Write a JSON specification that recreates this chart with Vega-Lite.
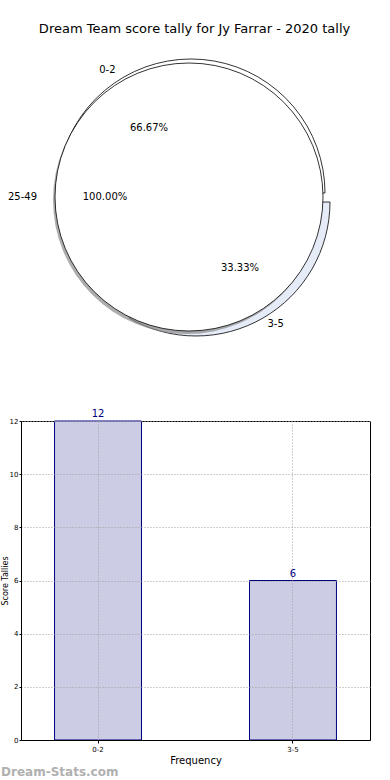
{
  "$schema": "https://vega.github.io/schema/vega-lite/v6.json",
  "padding": {"left": 0, "top": 23, "right": 0, "bottom": 0},
  "background": "white",
  "title": {"text": "Dream Team score tally for Jy Farrar - 2020 tally", "fontSize": 13, "font": "DejaVu Sans", "fontWeight": "normal", "anchor": "middle", "offset": 10, "dx": 9, "color": "black"},
  "config": {"font": "DejaVu Sans", "view": {"stroke": null}},
  "datasets": {
    "tally": [
      {"cat": "0-2", "count": 12, "pct": "66.67%"},
      {"cat": "3-5", "count": 6, "pct": "33.33%"}
    ],
    "other": [
      {"cat": "25-49", "count": 1, "pct": "100.00%"}
    ]
  },
  "spacing": 60,
  "vconcat": [
    {
      "width": 336,
      "height": 302,
      "resolve": {"scale": {"theta": "independent"}},
      "layer": [
        {
          "data": {"name": "tally"},
          "encoding": {
            "theta": {"field": "count", "type": "quantitative", "stack": true, "scale": {"range": [-2.617994, 3.665191]}},
            "order": {"field": "cat", "type": "ordinal"}
          },
          "layer": [
            {"mark": {"type": "arc", "radius": 134, "xOffset": 2, "yOffset": -4, "fill": "white", "stroke": "black", "strokeWidth": 0.8},
             "encoding": {"opacity": {"condition": {"test": "datum.cat === '0-2'", "value": 1}, "value": 0}}},
            {"mark": {"type": "arc", "radius": 134, "xOffset": 7, "yOffset": 5, "fill": "#e6ebf8", "stroke": "black", "strokeWidth": 0.8},
             "encoding": {"opacity": {"condition": {"test": "datum.cat === '3-5'", "value": 1}, "value": 0}}}
          ]
        },
        {
          "data": {"name": "other"},
          "encoding": {
            "theta": {"field": "count", "type": "quantitative", "stack": true, "scale": {"range": [-4.7124, 1.5708]}}
          },
          "layer": [
            {"mark": {"type": "arc", "radius": 134, "xOffset": -2, "yOffset": 3, "fill": "#8a8a8a", "opacity": 0.7}},
            {"mark": {"type": "arc", "radius": 134, "fill": "white", "stroke": "black", "strokeWidth": 0.8}},
            {"mark": {"type": "text", "radius": 152, "align": "right", "baseline": "middle", "fontSize": 10, "color": "black"},
             "encoding": {"text": {"field": "cat"}}},
            {"mark": {"type": "text", "radius": 84, "align": "center", "baseline": "middle", "fontSize": 10, "color": "black"},
             "encoding": {"text": {"field": "pct"}}}
          ]
        },
        {
          "data": {"name": "tally"},
          "encoding": {
            "theta": {"field": "count", "type": "quantitative", "stack": true, "scale": {"range": [-2.617994, 3.665191]}},
            "order": {"field": "cat", "type": "ordinal"}
          },
          "layer": [
            {"mark": {"type": "text", "radius": 147, "align": "right", "baseline": "middle", "fontSize": 10, "color": "black"},
             "encoding": {"text": {"field": "cat"}, "opacity": {"condition": {"test": "datum.cat === '0-2'", "value": 1}, "value": 0}}},
            {"mark": {"type": "text", "radius": 147, "align": "left", "baseline": "middle", "dx": 5, "fontSize": 10, "color": "black"},
             "encoding": {"text": {"field": "cat"}, "opacity": {"condition": {"test": "datum.cat === '3-5'", "value": 1}, "value": 0}}},
            {"mark": {"type": "text", "radius": 80, "align": "center", "baseline": "middle", "fontSize": 10, "color": "black"},
             "encoding": {"text": {"field": "pct"}, "opacity": {"condition": {"test": "datum.cat === '0-2'", "value": 1}, "value": 0}}},
            {"mark": {"type": "text", "radius": 80, "align": "center", "baseline": "middle", "dx": 11, "dy": 2, "fontSize": 10, "color": "black"},
             "encoding": {"text": {"field": "pct"}, "opacity": {"condition": {"test": "datum.cat === '3-5'", "value": 1}, "value": 0}}}
          ]
        }
      ]
    },
    {
      "width": 349,
      "height": 319,
      "data": {"name": "tally"},
      "view": {"stroke": "black", "strokeWidth": 1},
      "title": {"text": "Dream-Stats.com", "orient": "bottom", "anchor": "start", "frame": "bounds", "fontSize": 12, "fontWeight": "bold", "color": "#b0b0b0", "offset": 2},
      "encoding": {
        "x": {"field": "cat", "type": "nominal", "sort": null,
              "scale": {"paddingInner": 0.554, "paddingOuter": 0.172},
              "axis": {"title": "Frequency", "titleFontSize": 10, "titleFontWeight": "normal", "titleColor": "black", "titlePadding": 3,
                       "labelFontSize": 7, "labelAngle": 0, "labelColor": "black", "labelPadding": 2,
                       "grid": true, "gridDash": [1, 2], "gridColor": "#a0a0a0", "gridWidth": 1,
                       "domainColor": "black", "tickColor": "black", "tickSize": 3, "zindex": 1}},
        "y": {"field": "count", "type": "quantitative", "scale": {"domain": [0, 12]},
              "axis": {"title": "Score Tallies", "titleFontSize": 8, "titleFontWeight": "normal", "titleColor": "black", "titlePadding": 0,
                       "values": [0, 2, 4, 6, 8, 10, 12], "labelFontSize": 7, "labelColor": "black", "labelPadding": 1,
                       "grid": true, "gridDash": [1, 2], "gridColor": "#a0a0a0", "gridWidth": 1,
                       "domainColor": "black", "tickColor": "black", "tickSize": 2, "zindex": 1}}
      },
      "layer": [
        {"mark": {"type": "bar", "fill": "#ccccE5", "stroke": "#000080", "strokeWidth": 1}},
        {"mark": {"type": "text", "baseline": "bottom", "dy": -2, "color": "#000080", "fontSize": 10},
         "encoding": {"text": {"field": "count", "type": "quantitative"}}}
      ]
    }
  ]
}
